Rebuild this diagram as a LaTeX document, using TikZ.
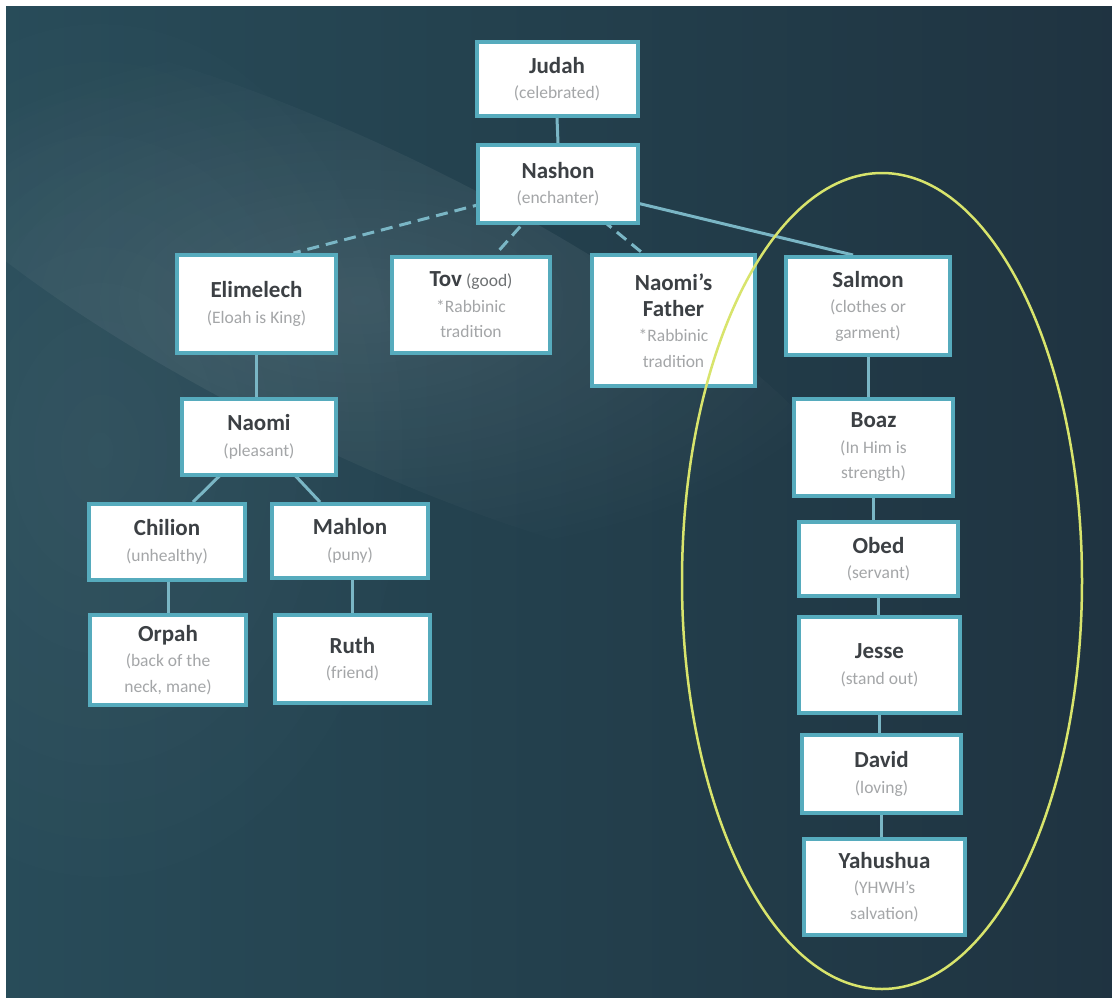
\documentclass[tikz,border=0pt]{standalone}
\usepackage{fontspec}
\setmainfont{Carlito}
\usetikzlibrary{calc,fadings}

\definecolor{bgL}{HTML}{2E5866}
\definecolor{bgM}{HTML}{24424F}
\definecolor{bgR}{HTML}{1B2735}
\definecolor{boxedge}{HTML}{56ABBD}
\definecolor{linkc}{HTML}{7AB6C5}
\definecolor{namec}{HTML}{3C4044}
\definecolor{meanc}{HTML}{A4A6A8}
\definecolor{notec}{HTML}{6E7173}
\definecolor{ringc}{HTML}{D8E46C}

\pgfdeclarehorizontalshading{backdrop}{100bp}{color(0bp)=(bgL); color(45bp)=(bgM); color(100bp)=(bgR)}
\tikzfading[name=softglow, inner color=transparent!0, outer color=transparent!100]

\pgfdeclarelayer{bg}
\pgfdeclarelayer{lines}
\pgfsetlayers{bg,lines,main}

\newcommand\nm[1]{{\fontsize{23}{26}\selectfont\bfseries\color{namec}#1}}
\newcommand\mn[1]{{\color{meanc}#1}}

\begin{document}
\begin{tikzpicture}[x=1pt,y=-1pt,
  person/.style={draw=boxedge, line width=4pt, fill=white, inner sep=0pt,
    align=center, font=\fontsize{17.5}{25.5}\selectfont},
  link/.style={draw=linkc, line width=3pt},
  guess/.style={link, dash pattern=on 12pt off 7pt},
  ring/.style={draw=ringc, line width=2.5pt}]

\useasboundingbox (0,0) rectangle (1112,997);

% backdrop: white edge, teal-to-navy panel, soft diagonal light streak
\begin{pgfonlayer}{bg}
  \fill[white] (0,0) rectangle (1112,997);
  \shade[shading=backdrop] (6,6) rectangle (1112,997);
  \begin{scope}
    \clip (6,6) rectangle (1112,997);
    \fill[white, opacity=0.11, path fading=softglow, rotate around={-26:(360,300)}]
      (360,300) ellipse [x radius=560, y radius=150];
    \fill[white, opacity=0.05, path fading=softglow]
      (100,450) ellipse [x radius=340, y radius=480];
  \end{scope}
\end{pgfonlayer}

% people
\node[person, minimum width=161pt, minimum height=74pt] (judah) at (557,79)
  {\nm{Judah}\\\mn{(celebrated)}};
\node[person, minimum width=160pt, minimum height=78pt] (nashon) at (558,184)
  {\nm{Nashon}\\\mn{(enchanter)}};

\node[person, minimum width=159pt, minimum height=98pt] (elim) at (256.5,304)
  {\nm{Elimelech}\\\mn{(Eloah is King)}};
\node[person, minimum width=158pt, minimum height=96pt] (tov) at (471,305)
  {\nm{Tov} {\color{notec}(good)}\\\mn{*Rabbinic}\\\mn{tradition}};
\node[person, minimum width=163pt, minimum height=131pt] (nfather) at (673.5,320.5)
  {\nm{Naomi’s}\\\nm{Father}\\\mn{*Rabbinic}\\\mn{tradition}};
\node[person, minimum width=164pt, minimum height=98pt] (salmon) at (868,306)
  {\nm{Salmon}\\\mn{(clothes or}\\\mn{garment)}};

\node[person, minimum width=154pt, minimum height=76pt] (naomi) at (259,437)
  {\nm{Naomi}\\\mn{(pleasant)}};
\node[person, minimum width=156pt, minimum height=76pt] (chilion) at (167,542)
  {\nm{Chilion}\\\mn{(unhealthy)}};
\node[person, minimum width=156pt, minimum height=74pt] (mahlon) at (350,541)
  {\nm{Mahlon}\\\mn{(puny)}};
\node[person, minimum width=156pt, minimum height=90pt] (orpah) at (168,660)
  {\nm{Orpah}\\\mn{(back of the}\\\mn{neck, mane)}};
\node[person, minimum width=155pt, minimum height=88pt] (ruth) at (352.5,659)
  {\nm{Ruth}\\\mn{(friend)}};

\node[person, minimum width=159pt, minimum height=97pt] (boaz) at (873.5,447.5)
  {\nm{Boaz}\\\mn{(In Him is}\\\mn{strength)}};
\node[person, minimum width=159pt, minimum height=74pt] (obed) at (878.5,559)
  {\nm{Obed}\\\mn{(servant)}};
\node[person, minimum width=161pt, minimum height=96pt] (jesse) at (879.5,665)
  {\nm{Jesse}\\\mn{(stand out)}};
\node[person, minimum width=159pt, minimum height=78pt] (david) at (881.5,774)
  {\nm{David}\\\mn{(loving)}};
\node[person, minimum width=161pt, minimum height=96pt] (yahu) at (884.5,887)
  {\nm{Yahushua}\\\mn{(YHWH’s}\\\mn{salvation)}};

% lines of descent, kept behind the boxes
\begin{pgfonlayer}{lines}
  \draw[link] (judah.south) -- (nashon.north);
  \draw[guess] (nashon.center) -- ($(elim.north)+(37,0)$);
  \draw[guess] (nashon.center) -- ($(tov.north)+(24,0)$);
  \draw[guess] (nashon.center) -- ($(nfather.north)+(-31,0)$);
  \draw[link]  (nashon.center) -- ($(salmon.north)+(-15,0)$);

  \draw[link] (elim.south) -- (elim.south |- naomi.north);
  \draw[link] (naomi.center) -- ($(chilion.north)+(26,0)$);
  \draw[link] (naomi.center) -- ($(mahlon.north)+(-30,0)$);
  \draw[link] (orpah.north) -- (orpah.north |- chilion.south);
  \draw[link] (ruth.north) -- (ruth.north |- mahlon.south);

  \draw[link] (salmon.south) -- (salmon.south |- boaz.north);
  \draw[link] (boaz.south) -- (boaz.south |- obed.north);
  \draw[link] (obed.south) -- (obed.south |- jesse.north);
  \draw[link] (jesse.south) -- (jesse.south |- david.north);
  \draw[link] (david.south) -- (david.south |- yahu.north);
\end{pgfonlayer}

% the messianic line, ringed
\draw[ring] (882,581) ellipse [x radius=200, y radius=408];

\end{tikzpicture}
\end{document}
